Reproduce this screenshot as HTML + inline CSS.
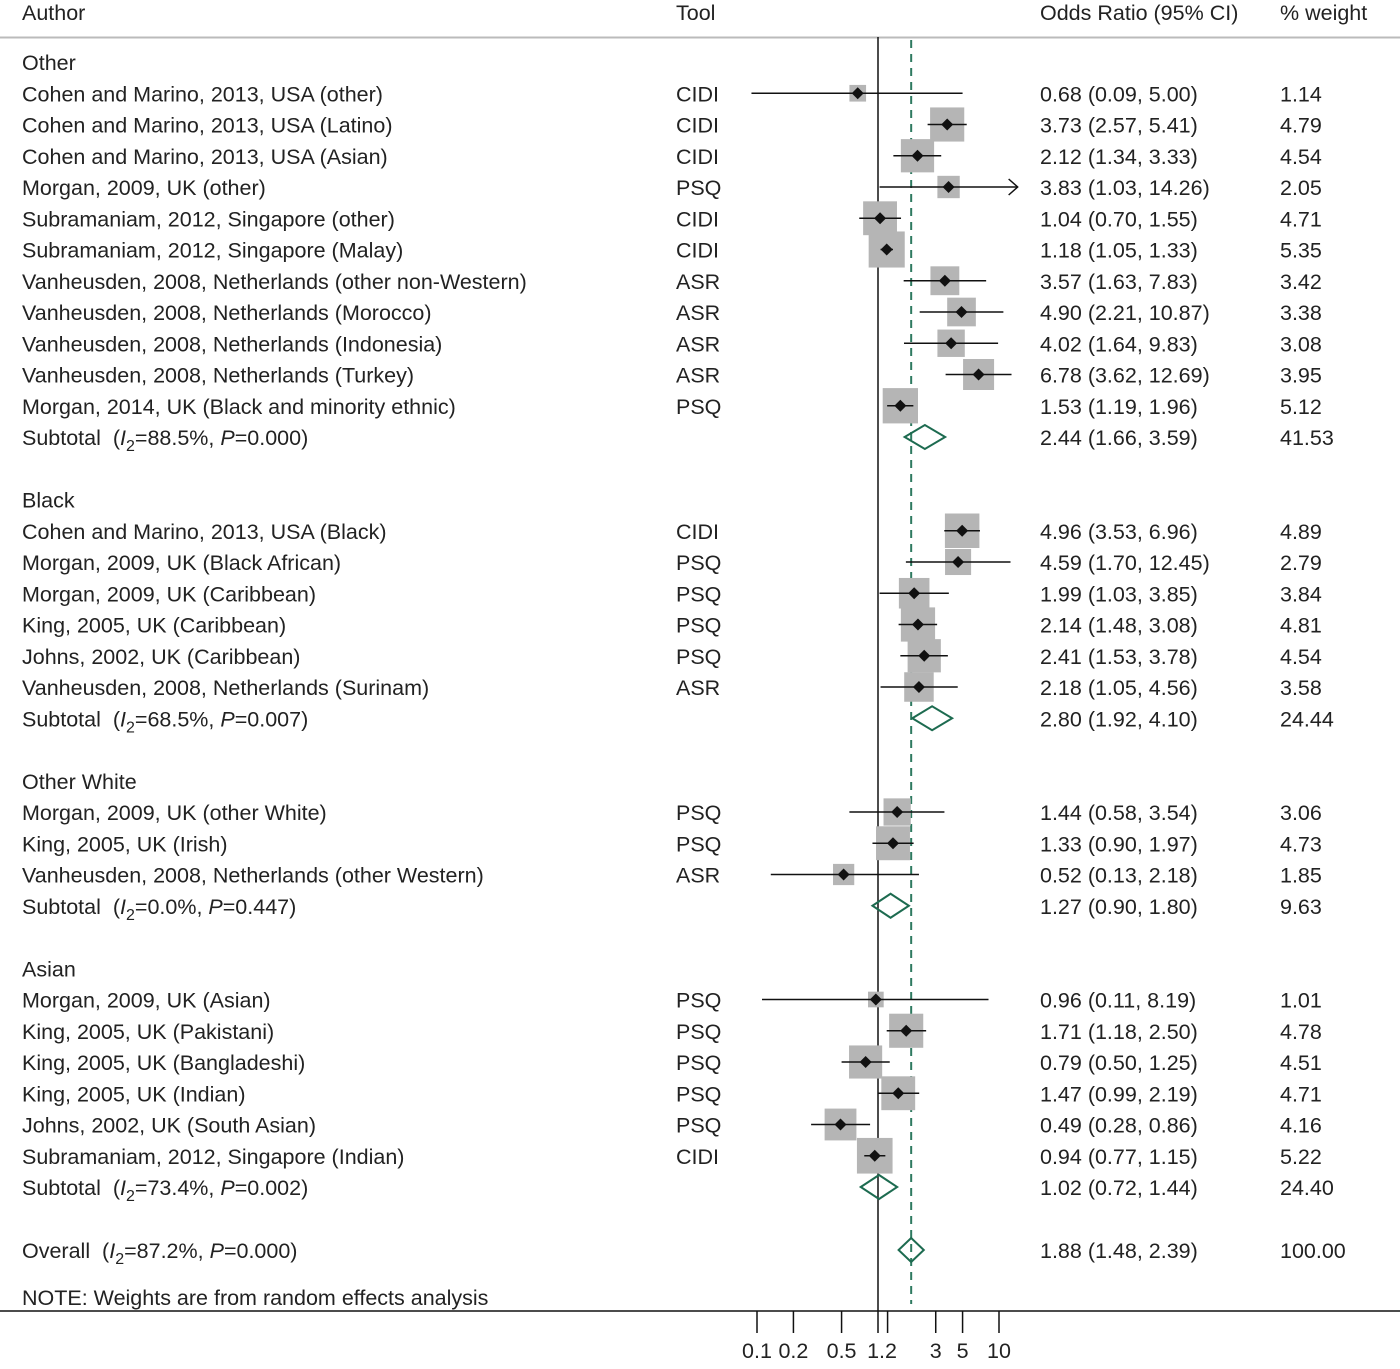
<!DOCTYPE html>
<html><head><meta charset="utf-8"><style>
body{margin:0;background:#fff;}
svg text{font-family:"Liberation Sans",sans-serif;font-size:21.5px;fill:#222;}
</style></head><body>
<svg id="chart" width="1400" height="1364" xmlns="http://www.w3.org/2000/svg">
<g>
<text x="22" y="20">Author</text>
<text x="676" y="20">Tool</text>
<text x="1040" y="20">Odds Ratio (95% CI)</text>
<text x="1280" y="20">% weight</text>
<line x1="0" y1="37.5" x2="1400" y2="37.5" stroke="#bbb" stroke-width="2"/>
</g>
<g id="rows"></g>
<g id="axis"></g>
</svg>
<script>
const labels=["Cohen and Marino, 2013, USA (other)","Cohen and Marino, 2013, USA (Latino)","Cohen and Marino, 2013, USA (Asian)","Morgan, 2009, UK (other)","Subramaniam, 2012, Singapore (other)","Subramaniam, 2012, Singapore (Malay)","Vanheusden, 2008, Netherlands (other non-Western)","Vanheusden, 2008, Netherlands (Morocco)","Vanheusden, 2008, Netherlands (Indonesia)","Vanheusden, 2008, Netherlands (Turkey)","Morgan, 2014, UK (Black and minority ethnic)",
"Cohen and Marino, 2013, USA (Black)","Morgan, 2009, UK (Black African)","Morgan, 2009, UK (Caribbean)","King, 2005, UK (Caribbean)","Johns, 2002, UK (Caribbean)","Vanheusden, 2008, Netherlands (Surinam)",
"Morgan, 2009, UK (other White)","King, 2005, UK (Irish)","Vanheusden, 2008, Netherlands (other Western)",
"Morgan, 2009, UK (Asian)","King, 2005, UK (Pakistani)","King, 2005, UK (Bangladeshi)","King, 2005, UK (Indian)","Johns, 2002, UK (South Asian)","Subramaniam, 2012, Singapore (Indian)"];
const tools=["CIDI","CIDI","CIDI","PSQ","CIDI","CIDI","ASR","ASR","ASR","ASR","PSQ","CIDI","PSQ","PSQ","PSQ","PSQ","ASR","PSQ","PSQ","ASR","PSQ","PSQ","PSQ","PSQ","PSQ","CIDI"];
const groupOf=[0,0,0,0,0,0,0,0,0,0,0,1,1,1,1,1,1,2,2,2,3,3,3,3,3,3];
const orVals=[0.68,3.73,2.12,3.83,1.04,1.18,3.57,4.90,4.02,6.78,1.53,4.96,4.59,1.99,2.14,2.41,2.18,1.44,1.33,0.52,0.96,1.71,0.79,1.47,0.49,0.94];
const lowVals=[0.09,2.57,1.34,1.03,0.70,1.05,1.63,2.21,1.64,3.62,1.19,3.53,1.70,1.03,1.48,1.53,1.05,0.58,0.90,0.13,0.11,1.18,0.50,0.99,0.28,0.77];
const highVals=[5.00,5.41,3.33,14.26,1.55,1.33,7.83,10.87,9.83,12.69,1.96,6.96,12.45,3.85,3.08,3.78,4.56,3.54,1.97,2.18,8.19,2.50,1.25,2.19,0.86,1.15];
const weights=[1.14,4.79,4.54,2.05,4.71,5.35,3.42,3.38,3.08,3.95,5.12,4.89,2.79,3.84,4.81,4.54,3.58,3.06,4.73,1.85,1.01,4.78,4.51,4.71,4.16,5.22];
const groups=["Other","Black","Other White","Asian"];
const subI2=["88.5","68.5","0.0","73.4"];const subP=["0.000","0.007","0.447","0.002"];
const subOr=[2.44,2.80,1.27,1.02];const subLow=[1.66,1.92,0.90,0.72];const subHigh=[3.59,4.10,1.80,1.44];const subW=["41.53","24.44","9.63","24.40"];
const overall=[1.88,1.48,2.39];const overallI2="87.2";const overallP="0.000";
const ticks=[0.1,0.2,0.5,1,1.2,3,5,10];
const tickLabels=[["0.1",0.1],["0.2",0.2],["0.5",0.5],["1.2",1.08],["3",3],["5",5],["10",10]];
const NS="http://www.w3.org/2000/svg";
const X=v=>878+121*Math.log10(v);
const arrowLimit=13;
function el(t,a,p){const e=document.createElementNS(NS,t);for(const k in a)e.setAttribute(k,a[k]);p.appendChild(e);return e;}
const R=document.getElementById('rows');
const f=v=>v.toFixed(2);
el('line',{x1:878,y1:37,x2:878,y2:1311,stroke:'#111','stroke-width':1.5},R);
el('line',{x1:X(overall[0]),y1:40,x2:X(overall[0]),y2:1304,stroke:'#2e7a60','stroke-width':2,'stroke-dasharray':'8,6'},R);
const rowH=31.25;let y=62;
function txt(x,yy,s,p){const t=el('text',{x:x,y:yy+8},p);t.textContent=s;return t;}
function subText(yy,label,i2,p,pp){const t=el('text',{x:22,y:yy+8},pp);
 t.innerHTML=label+'\u00a0\u00a0(<tspan font-style="italic">I</tspan><tspan dy="6" font-size="16">2</tspan><tspan dy="-6">=</tspan>'+i2+'%, <tspan font-style="italic">P</tspan>='+p+')';return t;}
function diamond(yy,lo,mid,hi,p){return el('polygon',{points:`${X(lo)},${yy} ${X(mid)},${yy-12} ${X(hi)},${yy} ${X(mid)},${yy+12}`,fill:'none',stroke:'#1d6b50','stroke-width':2},p);}
for(let g=0;g<groups.length;g++){
 const h=txt(22,y,groups[g],R);
 
 
 y+=rowH;
 for(let i=0;i<labels.length;i++){ if(groupOf[i]!==g)continue;
  const G=el('g',{},R);
  
  
  txt(22,y,labels[i],G);txt(676,y,tools[i],G);
  txt(1040,y,`${f(orVals[i])} (${f(lowVals[i])}, ${f(highVals[i])})`,G);
  txt(1280,y,weights[i].toFixed(2),G);
  const s=15.6*Math.sqrt(weights[i]);
  const b=el('rect',{x:X(orVals[i])-s/2,y:y-s/2,width:s,height:s,fill:'#b5b5b5'},G);
  
  
  const hi=X(highVals[i]);
  el('line',{x1:X(lowVals[i]),y1:y,x2:hi,y2:y,stroke:'#111','stroke-width':1.5},G);
  if(highVals[i]>arrowLimit){el('polyline',{points:`${hi-9},${y-8} ${hi},${y} ${hi-9},${y+8}`,fill:'none',stroke:'#111','stroke-width':1.5},G);}
  const d=el('polygon',{points:`${X(orVals[i])-6},${y} ${X(orVals[i])},${y-6} ${X(orVals[i])+6},${y} ${X(orVals[i])},${y+6}`,fill:'#111'},G);
  
  
  y+=rowH;
 }
 const S=el('g',{},R);
 
 
 subText(y,'Subtotal',subI2[g],subP[g],S);
 txt(1040,y,`${f(subOr[g])} (${f(subLow[g])}, ${f(subHigh[g])})`,S);
 txt(1280,y,subW[g],S);
 diamond(y,subLow[g],subOr[g],subHigh[g],S);
 y+=rowH*2;
}
y=1250;
const O=el('g',{},R);


subText(y,'Overall',overallI2,overallP,O);
txt(1040,y,`${f(overall[0])} (${f(overall[1])}, ${f(overall[2])})`,O);
txt(1280,y,'100.00',O);
diamond(y,overall[1],overall[0],overall[2],O);
const n=txt(22,1297,'NOTE: Weights are from random effects analysis',R);


const A=document.getElementById('axis');
el('line',{x1:0,y1:1311,x2:1400,y2:1311,stroke:'#111','stroke-width':1.5},A);
for(const t of ticks){const l=el('line',{x1:X(t),y1:1311,x2:X(t),y2:1333,stroke:'#111','stroke-width':1.5},A);
 
 }
for(const [s,v] of tickLabels){const t=el('text',{x:X(v),y:1358,'text-anchor':'middle'},A);t.textContent=s;
 
 }
</script>
</body></html>
